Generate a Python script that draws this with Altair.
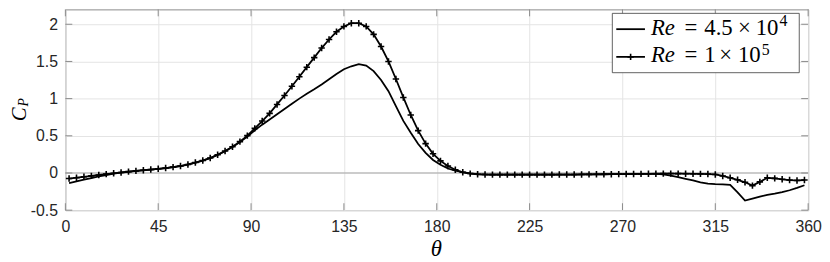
import altair as alt
import pandas as pd

# ---------------- data ----------------
theta = [1.8, 5.4, 9.0, 12.6, 16.2, 19.8, 23.4, 27.0, 30.6, 34.2,
         37.8, 41.4, 45.0, 48.6, 52.2, 55.8, 59.4, 63.0, 66.6, 70.2,
         73.8, 77.4, 81.0, 84.6, 88.2, 91.8, 95.4, 99.0, 102.6, 106.2,
         109.8, 113.4, 117.0, 120.6, 124.2, 127.8, 131.4, 135.0, 138.6, 142.2,
         145.8, 149.4, 153.0, 156.6, 160.2, 163.8, 167.4, 171.0, 174.6, 178.2,
         181.8, 185.4, 189.0, 192.6, 196.2, 199.8, 203.4, 207.0, 210.6, 214.2,
         217.8, 221.4, 225.0, 228.6, 232.2, 235.8, 239.4, 243.0, 246.6, 250.2,
         253.8, 257.4, 261.0, 264.6, 268.2, 271.8, 275.4, 279.0, 282.6, 286.2,
         289.8, 293.4, 297.0, 300.6, 304.2, 307.8, 311.4, 315.0, 318.6, 322.2,
         325.8, 329.4, 333.0, 336.6, 340.2, 343.8, 347.4, 351.0, 354.6, 358.2]

cp_re_1e5 = [-0.075, -0.063, -0.051, -0.039, -0.027, -0.015, -0.004, 0.007, 0.018, 0.028,
             0.037, 0.046, 0.056, 0.066, 0.079, 0.094, 0.115, 0.140, 0.168, 0.202,
             0.245, 0.295, 0.352, 0.422, 0.502, 0.600, 0.699, 0.802, 0.922, 1.042,
             1.166, 1.294, 1.423, 1.551, 1.680, 1.795, 1.899, 1.971, 2.014, 2.014,
             1.971, 1.864, 1.701, 1.500, 1.264, 1.016, 0.780, 0.570, 0.395, 0.258,
             0.163, 0.095, 0.043, 0.009, -0.008, -0.018, -0.021, -0.022, -0.022, -0.022,
             -0.022, -0.022, -0.022, -0.022, -0.022, -0.022, -0.021, -0.021, -0.021, -0.020,
             -0.019, -0.018, -0.017, -0.016, -0.015, -0.014, -0.013, -0.012, -0.011, -0.010,
             -0.008, -0.008, -0.009, -0.010, -0.011, -0.012, -0.014, -0.020, -0.040, -0.065,
             -0.092, -0.125, -0.170, -0.120, -0.065, -0.072, -0.085, -0.095, -0.100, -0.095]

cp_re_45e3 = [-0.135, -0.113, -0.090, -0.068, -0.047, -0.028, -0.010, 0.004, 0.016, 0.027,
              0.036, 0.045, 0.055, 0.065, 0.078, 0.093, 0.113, 0.138, 0.166, 0.200,
              0.243, 0.292, 0.348, 0.415, 0.490, 0.575, 0.650, 0.720, 0.790, 0.860,
              0.930, 1.000, 1.065, 1.125, 1.190, 1.260, 1.330, 1.395, 1.435, 1.465,
              1.445, 1.370, 1.250, 1.100, 0.900, 0.700, 0.540, 0.390, 0.270, 0.175,
              0.110, 0.060, 0.030, 0.010, -0.005, -0.015, -0.020, -0.021, -0.022, -0.022,
              -0.022, -0.022, -0.022, -0.022, -0.022, -0.022, -0.021, -0.021, -0.021, -0.020,
              -0.019, -0.018, -0.017, -0.016, -0.015, -0.014, -0.013, -0.012, -0.011, -0.012,
              -0.020, -0.035, -0.055, -0.078, -0.100, -0.125, -0.142, -0.150, -0.152, -0.160,
              -0.260, -0.370, -0.345, -0.318, -0.295, -0.278, -0.258, -0.232, -0.200, -0.165]

x_ticks = [0, 45, 90, 135, 180, 225, 270, 315, 360]
y_ticks = [-0.5, 0, 0.5, 1, 1.5, 2]
x_domain = [0, 360]
y_domain = [-0.5, 2.2]

legend_1 = ["Re", "=", "4.5", "\u00d7", "10", "4"]
legend_2 = ["Re", "=", "1", "\u00d7", "10", "5"]
x_title = "\u03b8"
y_title = ["C", "P"]

# ---------------- layout ----------------
W, H = 751, 203
AX = "#8a8a8a"
GRID = "#e4e4e4"
TXT = "#262626"
SERIF = "Liberation Serif"

df = pd.DataFrame({"theta": theta, "hi": cp_re_1e5, "lo": cp_re_45e3})
xt = pd.DataFrame({"t": x_ticks})
yt = pd.DataFrame({"v": y_ticks})
one = pd.DataFrame({"a": [0]})
zero = pd.DataFrame({"z": [0]})

xs = alt.Scale(domain=x_domain, nice=False, zero=False)
ys = alt.Scale(domain=y_domain, nice=False, zero=False)

xaxis = alt.Axis(values=x_ticks, title=None, ticks=False, domain=False, grid=True,
                 gridColor=GRID, gridWidth=1, labelFont="Liberation Sans",
                 labelFontSize=16, labelColor=TXT, labelPadding=9, labelFlush=False)
yaxis = alt.Axis(values=y_ticks, title=None, ticks=False, domain=False, grid=True,
                 gridColor=GRID, gridWidth=1, labelFont="Liberation Sans",
                 labelFontSize=16, labelColor=TXT, labelPadding=8,
                 labelExpr="toString(datum.value)")

X = lambda f: alt.X(f, scale=xs, axis=xaxis)
Y = lambda f: alt.Y(f, scale=ys, axis=yaxis)

PLUS = "M-1,0L1,0M0,-1L0,1"

zero_line = alt.Chart(zero).mark_rule(color="#a6a6a6", strokeWidth=1).encode(y=Y("z:Q"))
lo_line = alt.Chart(df).mark_line(color="black", strokeWidth=1.8).encode(x=X("theta:Q"), y=Y("lo:Q"))
hi_line = alt.Chart(df).mark_line(color="black", strokeWidth=1.8).encode(x=X("theta:Q"), y=Y("hi:Q"))
hi_pts = alt.Chart(df).mark_point(shape=PLUS, size=42, filled=False, color="black",
                                  strokeWidth=1.6, opacity=1).encode(x=X("theta:Q"), y=Y("hi:Q"))

TL = 7
tick_b = alt.Chart(xt).mark_rule(color=AX, strokeWidth=1).encode(x=X("t:Q"), y=alt.value(H), y2=alt.value(H - TL))
tick_t = alt.Chart(xt).mark_rule(color=AX, strokeWidth=1).encode(x=X("t:Q"), y=alt.value(0), y2=alt.value(TL))
tick_l = alt.Chart(yt).mark_rule(color=AX, strokeWidth=1).encode(y=Y("v:Q"), x=alt.value(0), x2=alt.value(TL))
tick_r = alt.Chart(yt).mark_rule(color=AX, strokeWidth=1).encode(y=Y("v:Q"), x=alt.value(W - TL), x2=alt.value(W))


def txt(s, x, y, size, font=SERIF, style="normal", angle=0,
        align="left", baseline="alphabetic"):
    return alt.Chart(one).mark_text(text=s, font=font, fontSize=size, fontStyle=style,
                                    angle=angle, align=align, baseline=baseline,
                                    color="black").encode(x=alt.value(x), y=alt.value(y))


# legend (custom, with LaTeX-like text)
LX0, LX1, LY0, LY1 = 553, 742, 4, 64
box = alt.Chart(one).mark_rect(fill="white", stroke="#3a3a3a", strokeWidth=0.8).encode(
    x=alt.value(LX0), x2=alt.value(LX1), y=alt.value(LY0), y2=alt.value(LY1))
r1, r2 = 20, 48
sw1 = alt.Chart(one).mark_rule(color="black", strokeWidth=1.8).encode(
    x=alt.value(557), x2=alt.value(586), y=alt.value(r1))
sw2 = alt.Chart(one).mark_rule(color="black", strokeWidth=1.8).encode(
    x=alt.value(557), x2=alt.value(586), y=alt.value(r2))
sw2p = alt.Chart(one).mark_point(shape=PLUS, size=42, filled=False, color="black",
                                 strokeWidth=1.6, opacity=1).encode(x=alt.value(571.5), y=alt.value(r2))
b1, b2 = 26, 53
FS = 23
leg_txt = [
    txt(legend_1[0], 592, b1, FS, style="italic"),
    txt(legend_1[1], 626, b1, FS),
    txt(legend_1[2], 646, b1, FS),
    txt(legend_1[3], 680, b1, FS),
    txt(legend_1[4], 698, b1, FS),
    txt(legend_1[5], 722, b1 - 9, 16),
    txt(legend_2[0], 592, b2, FS, style="italic"),
    txt(legend_2[1], 626, b2, FS),
    txt(legend_2[2], 646, b2, FS),
    txt(legend_2[3], 661, b2, FS),
    txt(legend_2[4], 680, b2, FS),
    txt(legend_2[5], 704, b2 - 7, 16),
]

# axis titles
xt_mark = txt(x_title, 375, 242, 23, style="italic", align="center", baseline="middle")
yt_c = txt(y_title[0], -46, 106, 21, style="italic", angle=270, align="center", baseline="middle")
yt_p = txt(y_title[1], -42, 94, 14, style="italic", angle=270, align="center", baseline="middle")

chart = alt.layer(
    zero_line, lo_line, hi_line, hi_pts,
    tick_b, tick_t, tick_l, tick_r,
    box, sw1, sw2, sw2p, *leg_txt,
    xt_mark, yt_c, yt_p,
).properties(
    width=W, height=H,
    padding={"left": 58, "top": 0, "right": 14, "bottom": 51},
    autosize=alt.AutoSizeParams(type="none"),
).configure_view(stroke=AX, strokeWidth=1)

chart.save("out.html", embed_options={"renderer": "svg", "actions": False})
